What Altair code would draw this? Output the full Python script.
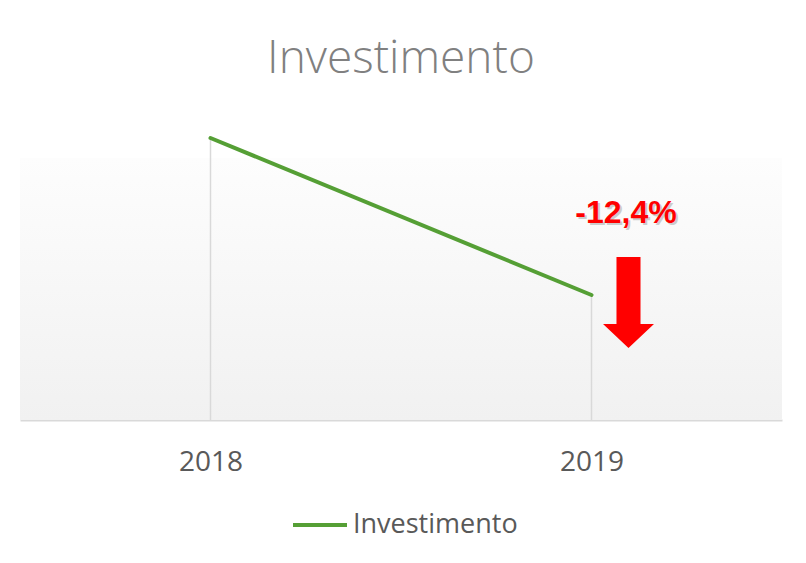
import altair as alt
import pandas as pd

years = ["2018", "2019"]
values = [100.0, 87.6]          # index (2018 = 100); 2019 = -12.4%
series_name = "Investimento"
change_label = "-12,4%"

df = pd.DataFrame({"year": years, "value": values, "series": [series_name] * len(years)})

W, H = 762, 320
YMIN, YMAX = 77.727, 103.0

x_enc = alt.X("year:N", scale=alt.Scale(type="point", padding=0.5),
              axis=alt.Axis(title=None, labelAngle=0, ticks=False, domainColor="#d9d9d9",
                            domainWidth=2, labelFontSize=28, labelFont="Open Sans",
                            labelColor="#595959", labelPadding=28, grid=False))
y_enc = alt.Y("value:Q", scale=alt.Scale(domain=[YMIN, YMAX], nice=False, zero=False), axis=None)

bg = alt.Chart(df).mark_rect(
    color=alt.Gradient(gradient="linear", x1=0, x2=0, y1=0, y2=1,
                       stops=[alt.GradientStop(offset=0, color="#fdfdfd"),
                              alt.GradientStop(offset=1, color="#f1f1f1")])
).encode(x=alt.value(0), x2=alt.value(W), y=alt.value(58), y2=alt.value(H))

drops = alt.Chart(df).mark_rule(color="#d9d9d9", strokeWidth=1.5).encode(
    x=x_enc, y=y_enc, y2=alt.value(H))

line = alt.Chart(df).mark_line(strokeWidth=4, strokeCap="round").encode(
    x=x_enc, y=y_enc,
    color=alt.Color("series:N", scale=alt.Scale(range=["#559f35"]),
                    legend=alt.Legend(orient="none", legendX=271, legendY=396, title=None,
                                      symbolType="stroke", symbolSize=2916, symbolStrokeWidth=4,
                                      labelFontSize=27, labelFont="Open Sans", labelColor="#595959",
                                      labelOffset=4, labelLimit=400, padding=0)))

ann_df = pd.DataFrame({"year": [years[1]], "label": [change_label]})

shadow = alt.Chart(ann_df).mark_text(
    font="Liberation Sans", fontWeight="bold", fontSize=32, color="#000000", opacity=0.18,
    baseline="alphabetic", align="center", dx=36.5, dy=2
).encode(x=alt.X("year:N"), y=alt.value(123), text="label:N")

ann = alt.Chart(ann_df).mark_text(
    font="Liberation Sans", fontWeight="bold", fontSize=32, color="#ff0000",
    baseline="alphabetic", align="center", dx=34.5
).encode(x=alt.X("year:N"), y=alt.value(123), text="label:N")

arrow_path = "M -0.264 -1 L 0.264 -1 L 0.264 0.47 L 0.56 0.47 L 0 1 L -0.56 0.47 L -0.264 0.47 Z"
arrow = alt.Chart(ann_df).mark_point(
    shape=arrow_path, size=8281, filled=True, color="#ff0000", opacity=1, strokeWidth=0
).encode(x=alt.X("year:N"), xOffset=alt.value(37), y=alt.value(202.5))

chart = alt.layer(bg, drops, line, shadow, ann, arrow).properties(
    width=W, height=H,
    title=alt.TitleParams("Investimento", fontSize=46, font="Open Sans", fontWeight=300,
                          color="#808080", anchor="middle", offset=-19, baseline="alphabetic"),
    autosize=alt.AutoSizeParams(type="none"),
    padding={"left": 12, "top": 92, "right": 14, "bottom": 133},
    background="#ffffff",
).configure_view(stroke=None)

chart.save("out.html", embed_options={"renderer": "svg", "actions": False})
